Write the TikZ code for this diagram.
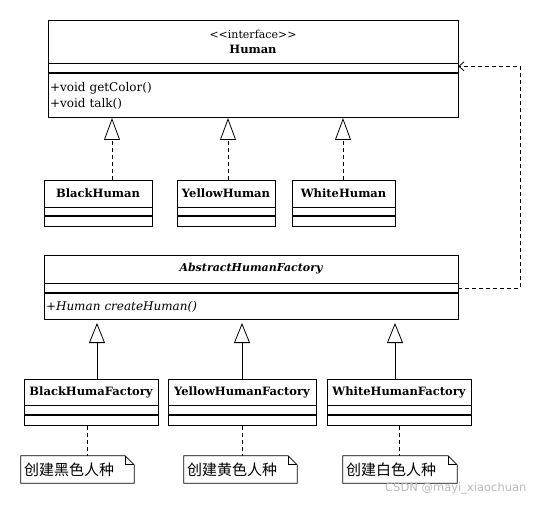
\documentclass[tikz,border=0pt]{standalone}
\usepackage{fontspec}
\setmainfont{DejaVu Serif}
\newfontfamily\cjkfont{Noto Sans CJK SC}
\newfontfamily\wmfont{DejaVu Sans}
\usetikzlibrary{arrows.meta}
\tikzset{
  box/.style={draw, line width=0.8pt, inner sep=0pt, font=\fontsize{11.5}{15}\selectfont},
  namebox/.style={box, font=\fontsize{11.5}{15}\selectfont\bfseries},
  opsbox/.style={box, align=left, inner xsep=2pt, font=\fontsize{12}{16}\selectfont},
  realize/.style={line width=0.8pt, dash pattern=on 4pt off 3pt, -{Triangle[open,length=22pt,width=16pt]}},
  inherit/.style={line width=0.8pt, -{Triangle[open,length=20pt,width=16pt]}},
  depend/.style={line width=0.8pt, dash pattern=on 4pt off 3pt, -{Straight Barb[length=5pt,width=9pt]}},
  notelink/.style={line width=0.8pt, dash pattern=on 4pt off 3pt},
  notebox/.style={inner sep=0pt, minimum height=27pt, align=left, font=\cjkfont\fontsize{15}{17}\selectfont}
}
\begin{document}
\begin{tikzpicture}[x=1pt,y=-1pt]
\useasboundingbox (0,0) rectangle (541,505);
% interface
\node[namebox, minimum width=410pt, minimum height=43pt, align=center] (human) at (253,41.5)
  {{\mdseries\fontsize{11}{15}\selectfont <{}<interface>{}>}\\Human};
\node[box, minimum width=410pt, minimum height=9pt, anchor=north] (humanattr) at (human.south) {};
\node[opsbox, text width=406pt, minimum height=44pt, anchor=north] (humanops) at (humanattr.south)
  {+void getColor()\\+void talk()};
% concrete humans
\node[namebox, minimum width=108pt, minimum height=27pt] (bh) at (98,193.5) {BlackHuman};
\node[namebox, minimum width=98pt, minimum height=27pt] (yh) at (226,193.5) {YellowHuman};
\node[namebox, minimum width=103pt, minimum height=27pt] (wh) at (343.5,193.5) {WhiteHuman};
\foreach \c/\w in {bh/108, yh/98, wh/103} {
  \node[box, minimum width=\w pt, minimum height=8pt, anchor=north] (\c attr) at (\c.south) {};
  \node[box, minimum width=\w pt, minimum height=10pt, anchor=north] (\c ops) at (\c attr.south) {};
}
\coordinate (bht) at ([xshift=14pt]bh.north);
\coordinate (yht) at ([xshift=2pt]yh.north);
\coordinate (wht) at ([xshift=-0.5pt]wh.north);
\foreach \c in {bht, yht, wht}
  \draw[realize] (\c) -- (\c |- humanops.south);
% abstract factory
\node[box, minimum width=414pt, minimum height=28pt, font=\fontsize{11}{15}\selectfont\bfseries\itshape] (af) at (251,269)
  {AbstractHumanFactory};
\node[box, minimum width=414pt, minimum height=9pt, anchor=north] (afattr) at (af.south) {};
\node[opsbox, text width=410pt, minimum height=26pt, anchor=north, font=\fontsize{12}{15}\selectfont\itshape] (afops) at (afattr.south)
  {+Human createHuman()};
\draw[depend] (afattr.east) -- ++(62,0) |- ([yshift=2pt]humanattr.east);
% concrete factories
\node[namebox, minimum width=134pt, minimum height=26pt] (bf) at (91,392) {BlackHumaFactory};
\node[namebox, minimum width=148pt, minimum height=26pt] (yf) at (242,392) {YellowHumanFactory};
\node[namebox, minimum width=144pt, minimum height=26pt] (wf) at (399,392) {WhiteHumanFactory};
\foreach \c/\w in {bf/134, yf/148, wf/144} {
  \node[box, minimum width=\w pt, minimum height=9pt, anchor=north] (\c attr) at (\c.south) {};
  \node[box, minimum width=\w pt, minimum height=10pt, anchor=north] (\c ops) at (\c attr.south) {};
}
\coordinate (bft) at ([xshift=6pt]bf.north);
\coordinate (yft) at (yf.north);
\coordinate (wft) at ([xshift=-4pt]wf.north);
\foreach \c in {bft, yft, wft}
  \draw[inherit] (\c) -- ([yshift=-3pt]\c |- afops.south);
% notes
\node[notebox, text width=107pt, inner xsep=3pt] (bn) at (77.5,469.5) {创建黑色人种};
\node[notebox, text width=107pt, inner xsep=3pt] (yn) at (240.5,469.5) {创建黄色人种};
\node[notebox, text width=108pt, inner xsep=3pt] (wn) at (400,469.5) {创建白色人种};
\foreach \n in {bn, yn, wn} {
  \draw[line width=0.8pt] (\n.north west) -- ([xshift=-9pt]\n.north east) -- ([yshift=-9pt]\n.north east)
    -- (\n.south east) -- (\n.south west) -- cycle;
  \draw[line width=0.8pt] ([xshift=-9pt]\n.north east) -- ([xshift=-9pt,yshift=-9pt]\n.north east) -- ([yshift=-9pt]\n.north east);
}
\draw[notelink] ([xshift=10pt]bfops.south -| bn.north) -- ([xshift=10pt]bn.north);
\draw[notelink] (yfops.south) -- (yfops.south |- yn.north);
\draw[notelink] (wfops.south) -- (wfops.south |- wn.north);
% watermark
\node[anchor=west, inner sep=0pt, text=gray!55, font=\wmfont\fontsize{11.5}{13}\selectfont] (wmark) at (385,488)
  {CSDN @mayi\_xiaochuan};
\end{tikzpicture}
\end{document}
